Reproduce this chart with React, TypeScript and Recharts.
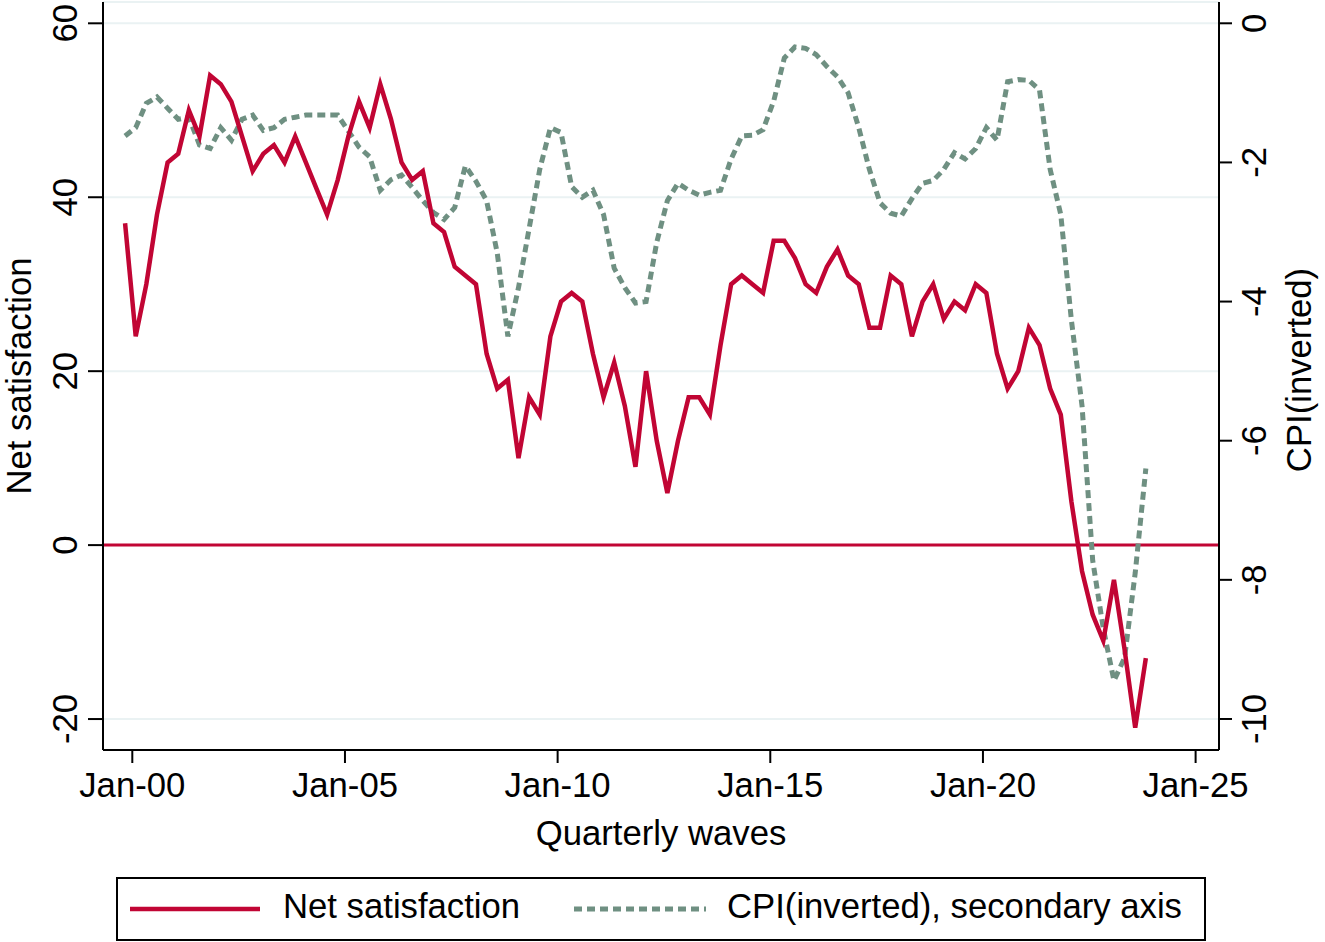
import { ComposedChart, Line, XAxis, YAxis, CartesianGrid, ReferenceLine } from 'recharts';

// quarterly waves, first one is Q4 1999
const FIRST_WAVE = 1999.83;
const WAVE_STEP = 0.25;

const netSatisfaction = [
  37, 24, 30, 38, 44, 45, 50, 47, 54, 53, 51, 47, 43, 45, 46, 44, 47, 44, 41, 38,
  42, 47, 51, 48, 53, 49, 44, 42, 43, 37, 36, 32, 31, 30, 22, 18, 19, 10, 17, 15,
  24, 28, 29, 28, 22, 17, 21, 16, 9, 20, 12, 6, 12, 17, 17, 15, 23, 30, 31, 30,
  29, 35, 35, 33, 30, 29, 32, 34, 31, 30, 25, 25, 31, 30, 24, 28, 30, 26, 28, 27,
  30, 29, 22, 18, 20, 25, 23, 18, 15, 5, -3, -8, -11, -4, -12, -21, -13,
];

const cpiInverted = [
  -1.62, -1.5, -1.15, -1.06, -1.22, -1.38, -1.35, -1.75, -1.8, -1.5,
  -1.68, -1.38, -1.32, -1.54, -1.5, -1.38, -1.35, -1.32, -1.32, -1.32,
  -1.32, -1.55, -1.78, -1.92, -2.4, -2.25, -2.18, -2.36, -2.55, -2.72,
  -2.82, -2.65, -2.05, -2.27, -2.55, -3.3, -4.5, -3.8, -2.95, -2.1,
  -1.5, -1.57, -2.35, -2.5, -2.4, -2.75, -3.52, -3.8, -4.02, -4.0,
  -3.15, -2.55, -2.3, -2.4, -2.47, -2.43, -2.4, -1.95, -1.62, -1.61,
  -1.53, -1.12, -0.5, -0.34, -0.36, -0.45, -0.62, -0.77, -1.0, -1.5,
  -2.1, -2.58, -2.73, -2.77, -2.52, -2.3, -2.26, -2.1, -1.86, -1.95,
  -1.8, -1.5, -1.68, -0.84, -0.81, -0.82, -0.96, -2.1, -2.75, -4.27,
  -5.5, -7.72, -8.7, -9.45, -9.12, -7.9, -6.4,
];

const yearTicks = [2000, 2005, 2010, 2015, 2020, 2025];
const leftTicks = [-20, 0, 20, 40, 60];
const rightTicks = [-10, -8, -6, -4, -2, 0];

const data = netSatisfaction.map((net, index) => ({
  t: FIRST_WAVE + index * WAVE_STEP,
  net,
  cpi: cpiInverted[index],
}));

const RED = '#c10534';
const GREEN = '#6f9082';
const GRID = '#eaf2f3';
const FONT = '"Liberation Sans", Arial, Helvetica, sans-serif';
const FONT_SIZE = 34.7;

const formatYear = (year: number) => `Jan-${String(year % 100).padStart(2, '0')}`;

const XTick = ({ x, payload }: any) => (
  <text x={x} y={797} textAnchor="middle" fontFamily={FONT} fontSize={FONT_SIZE} fill="#000">
    {formatYear(payload.value)}
  </text>
);

const LeftTick = ({ y, payload }: any) => (
  <text
    x={77}
    y={y}
    transform={`rotate(-90 77 ${y})`}
    textAnchor="middle"
    fontFamily={FONT}
    fontSize={FONT_SIZE}
    fill="#000"
  >
    {payload.value}
  </text>
);

const RightTick = ({ y, payload }: any) => (
  <text
    x={1266}
    y={y}
    transform={`rotate(-90 1266 ${y})`}
    textAnchor="middle"
    fontFamily={FONT}
    fontSize={FONT_SIZE}
    fill="#000"
  >
    {payload.value}
  </text>
);

const titleStyle = { fontFamily: FONT, fontSize: FONT_SIZE, fill: '#000' };

function ChartLegend() {
  return (
    <svg
      width={1090}
      height={64}
      style={{ position: 'absolute', left: 116, top: 877 }}
    >
      <rect x={1} y={1} width={1088} height={62} fill="#fff" stroke="#000" strokeWidth={2} />
      <line x1={14} x2={144} y1={32} y2={32} stroke={RED} strokeWidth={4.5} />
      <text x={167} y={41} {...titleStyle}>
        Net satisfaction
      </text>
      <line x1={458} x2={590} y1={32} y2={32} stroke={GREEN} strokeWidth={5} strokeDasharray="8 5" />
      <text x={611} y={41} {...titleStyle}>
        CPI(inverted), secondary axis
      </text>
    </svg>
  );
}

export default function App() {
  return (
    <div style={{ position: 'absolute', left: 0, top: 0, width: 1325, height: 942, background: '#fff' }}>
      <ComposedChart
        width={1325}
        height={942}
        data={data}
        margin={{ top: 2, right: 0, bottom: 0, left: 0 }}
      >
        <CartesianGrid yAxisId="left" vertical={false} stroke={GRID} strokeWidth={2} />
        <XAxis
          dataKey="t"
          type="number"
          domain={[1999.311, 2025.55]}
          allowDataOverflow
          ticks={yearTicks}
          tick={<XTick />}
          tickSize={13}
          height={192}
          axisLine={{ stroke: '#000', strokeWidth: 2 }}
          tickLine={{ stroke: '#000', strokeWidth: 2 }}
          label={{
            content: () => (
              <text x={661} y={845} textAnchor="middle" {...titleStyle}>
                Quarterly waves
              </text>
            ),
          }}
        />
        <YAxis
          yAxisId="left"
          type="number"
          domain={[-23.56, 62.45]}
          allowDataOverflow
          ticks={leftTicks}
          tick={<LeftTick />}
          tickSize={15}
          width={103}
          axisLine={{ stroke: '#000', strokeWidth: 2 }}
          tickLine={{ stroke: '#000', strokeWidth: 2 }}
          label={{
            content: () => (
              <text x={31} y={376} transform="rotate(-90 31 376)" textAnchor="middle" {...titleStyle}>
                Net satisfaction
              </text>
            ),
          }}
        />
        <YAxis
          yAxisId="right"
          orientation="right"
          type="number"
          domain={[-10.446, 0.306]}
          allowDataOverflow
          ticks={rightTicks}
          tick={<RightTick />}
          tickSize={13}
          width={106}
          axisLine={{ stroke: '#000', strokeWidth: 2 }}
          tickLine={{ stroke: '#000', strokeWidth: 2 }}
          label={{
            content: () => (
              <text x={1311} y={370} transform="rotate(-90 1311 370)" textAnchor="middle" {...titleStyle}>
                CPI(inverted)
              </text>
            ),
          }}
        />
        <ReferenceLine yAxisId="left" y={0} stroke={RED} strokeWidth={3} />
        <Line
          yAxisId="right"
          type="linear"
          dataKey="cpi"
          stroke={GREEN}
          strokeWidth={5}
          strokeDasharray="8 5"
          dot={false}
          activeDot={false}
          isAnimationActive={false}
        />
        <Line
          yAxisId="left"
          type="linear"
          dataKey="net"
          stroke={RED}
          strokeWidth={4.5}
          dot={false}
          activeDot={false}
          isAnimationActive={false}
        />
      </ComposedChart>
      <ChartLegend />
    </div>
  );
}
